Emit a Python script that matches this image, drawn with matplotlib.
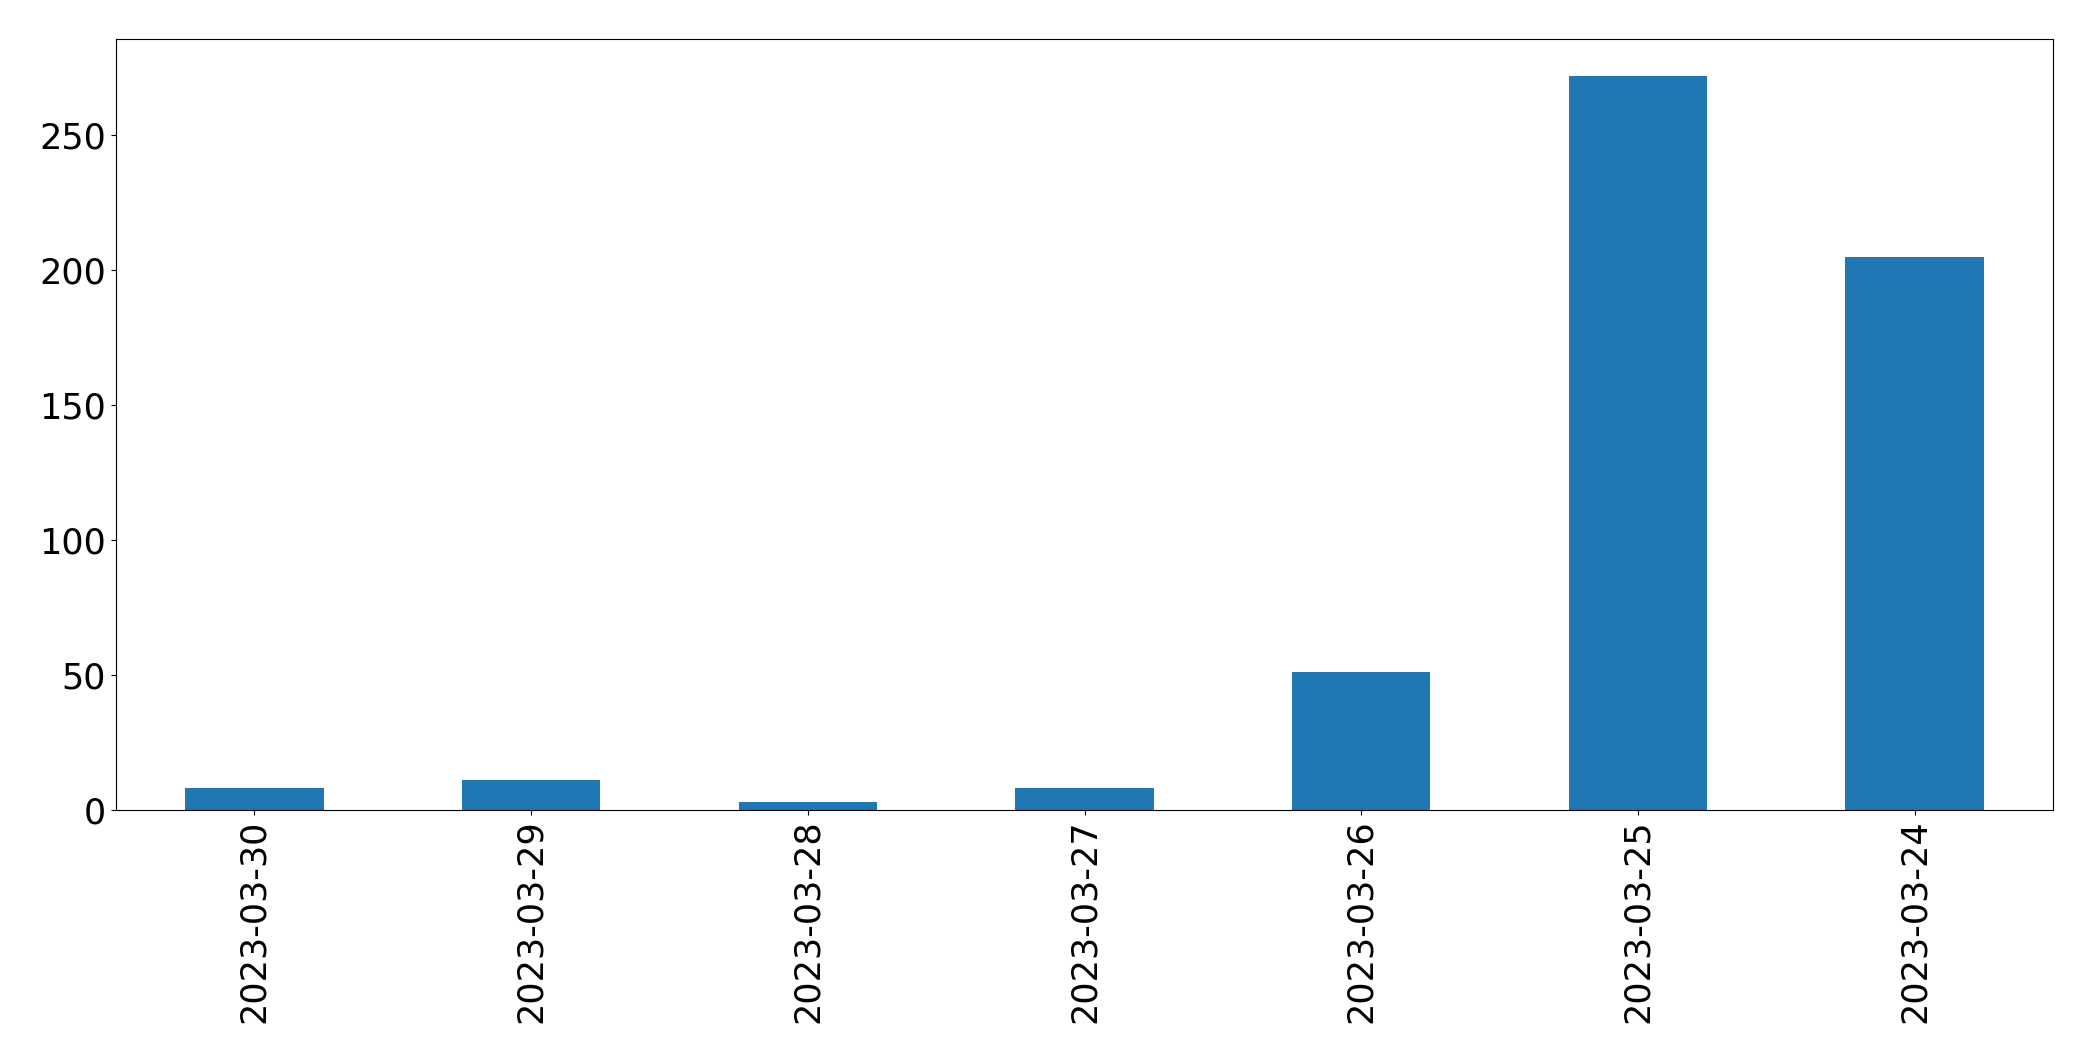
import matplotlib
matplotlib.use("Agg")
import matplotlib.pyplot as plt

dates = ["2023-03-30", "2023-03-29", "2023-03-28", "2023-03-27",
         "2023-03-26", "2023-03-25", "2023-03-24"]
counts = [8, 11, 3, 8, 51, 272, 205]

fig, ax = plt.subplots(figsize=(20.93, 10.61), dpi=100)
ax.bar(range(len(dates)), counts, width=0.5, color="#1f77b4")
ax.set_xlim(-0.5, len(dates) - 0.5)
ax.set_xticks(range(len(dates)))
ax.set_xticklabels(dates, rotation=90)
ax.tick_params(labelsize=25.2)

plt.subplots_adjust(left=116 / 2093, right=2053 / 2093, top=1 - 39 / 1061, bottom=1 - 810 / 1061)
plt.savefig("out.png")
